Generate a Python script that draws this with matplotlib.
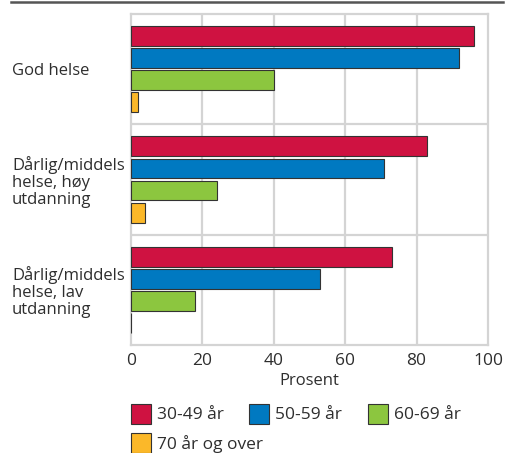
import matplotlib
matplotlib.use("Agg")
import matplotlib.pyplot as plt
from matplotlib.patches import Rectangle
from matplotlib.lines import Line2D

plt.rcParams['font.family'] = ['Open Sans', 'DejaVu Sans']

categories = ["God helse", "Dårlig/middels\nhelse, høy\nutdanning", "Dårlig/middels\nhelse, lav\nutdanning"]
series_names = ["30-49 år", "50-59 år", "60-69 år", "70 år og over"]
age_30_49 = [96, 83, 73]
age_50_59 = [92, 71, 53]
age_60_69 = [40, 24, 18]
age_70_plus = [2, 4, 0]
series_values = [age_30_49, age_50_59, age_60_69, age_70_plus]
colors = ["#cf1241", "#0079c1", "#8cc63f", "#fbb829"]
x_ticks = [0, 20, 40, 60, 80, 100]

W, H = 508, 453
fig = plt.figure(figsize=(W / 100, H / 100), dpi=100)
ax = fig.add_axes([131 / W, 108 / H, (488 - 131) / W, (345 - 14) / H])

text_color = "#2e2e2e"
grid_color = "#d4d4d4"
fs = 12.5

pitch = 0.2
height = 0.18
for k, (vals, col) in enumerate(zip(series_values, colors)):
    ys = [i + 0.5 + (k - 1.5) * pitch for i in range(len(categories))]
    ax.barh(ys, vals, height=height, color=col, edgecolor="#333333",
            linewidth=0.8, zorder=3)

ax.set_xlim(0, 100)
ax.set_ylim(len(categories), 0)

# grid: vertical lines at each tick, horizontal separators between groups
for x in x_ticks[1:-1]:
    ax.axvline(x, color=grid_color, linewidth=1.6, zorder=1)
for y in range(1, len(categories)):
    ax.axhline(y, color=grid_color, linewidth=1.6, zorder=1)
for s in ax.spines.values():
    s.set_color(grid_color)
    s.set_linewidth(1.6)
    s.set_zorder(1)

ax.set_xticks(x_ticks)
ax.set_xticklabels([str(v) for v in x_ticks], fontsize=fs, color=text_color)
ax.tick_params(axis="x", length=0, pad=6)
ax.set_xlabel("Prosent", fontsize=12, color=text_color, labelpad=2.5)

ax.set_yticks([i + 0.5 for i in range(len(categories))])
ax.set_yticklabels(categories, fontsize=12, color=text_color, ha="left",
                   linespacing=1.08)
ax.tick_params(axis="y", length=0, pad=(131 - 12) * 0.72)

# top rule
fig.add_artist(Line2D([11 / W, 503 / W], [1 - 1.5 / H, 1 - 1.5 / H],
                      color="#555555", linewidth=1.8))

# legend laid out in rows
legend_pos = [(131, 404), (249, 404), (368, 404), (131, 433)]
box = 20
for (px, py), name, col in zip(legend_pos, series_names, colors):
    fig.add_artist(Rectangle((px / W, 1 - (py + box) / H), box / W, box / H,
                             facecolor=col, edgecolor="#333333", linewidth=0.8))
    fig.text((px + box + 6) / W, 1 - (py + box / 2 + 1) / H, name, fontsize=fs,
             color=text_color, va="center", ha="left")

fig.savefig("out.png", dpi=100)
